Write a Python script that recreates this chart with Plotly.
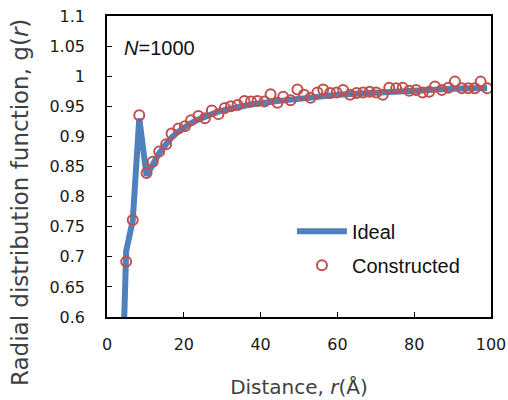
import plotly.graph_objects as go

# Constructed g(r) samples
r_constructed = [5.0, 6.7, 8.4, 10.3, 11.9, 13.6, 15.4, 16.8, 18.6, 20.3, 21.9, 23.8, 25.5, 27.3,
                 29.0, 30.7, 32.3, 34.0, 35.8, 37.5, 39.2, 41.0, 42.6, 44.4, 45.9, 47.8, 49.6, 51.3,
                 53.0, 54.8, 56.3, 58.1, 59.8, 61.5, 63.3, 65.0, 66.7, 68.4, 70.1, 71.8, 73.5, 75.3,
                 77.0, 78.7, 80.5, 82.2, 83.9, 85.4, 87.2, 88.9, 90.6, 92.4, 94.1, 95.8, 97.3, 99.0]
g_constructed = [0.692, 0.761, 0.935, 0.839, 0.858, 0.875, 0.887, 0.905, 0.913, 0.917, 0.927, 0.934,
                 0.930, 0.943, 0.937, 0.947, 0.950, 0.952, 0.959, 0.958, 0.959, 0.958, 0.970, 0.956,
                 0.966, 0.960, 0.978, 0.969, 0.964, 0.973, 0.978, 0.972, 0.973, 0.977, 0.969, 0.972,
                 0.973, 0.974, 0.973, 0.969, 0.981, 0.980, 0.981, 0.976, 0.977, 0.973, 0.974, 0.983,
                 0.977, 0.981, 0.991, 0.980, 0.980, 0.980, 0.991, 0.980]

# Ideal g(r)
r_ideal = [4.4, 5.0, 6.7, 8.4, 10.3, 11.9, 13.6, 15.4, 16.8, 18.6, 20.3, 21.9, 23.8, 25.5, 27.3,
           29.0, 30.7, 32.3, 34.0, 35.8, 37.5, 39.2, 41.0, 45.0, 50.0, 55.0, 60.0, 65.0, 70.0,
           75.0, 80.0, 85.0, 90.0, 95.0, 99.0]
g_ideal = [0.58, 0.71, 0.76, 0.930, 0.835, 0.855, 0.872, 0.887, 0.898, 0.908, 0.916, 0.922, 0.928,
           0.933, 0.937, 0.941, 0.944, 0.947, 0.949, 0.951, 0.953, 0.955, 0.956, 0.959, 0.963,
           0.966, 0.969, 0.971, 0.973, 0.975, 0.977, 0.978, 0.979, 0.980, 0.980]

x_ticks = [0, 20, 40, 60, 80, 100]
y_ticks = [0.6, 0.65, 0.7, 0.75, 0.8, 0.85, 0.9, 0.95, 1.0, 1.05, 1.1]
y_ticklabels = ["0.6", "0.65", "0.7", "0.75", "0.8", "0.85", "0.9", "0.95", "1", "1.05", "1.1"]

fig = go.Figure()
fig.add_trace(go.Scatter(
    x=r_ideal, y=g_ideal, mode="lines", name="Ideal", legendgroup="a",
    line=dict(color="#4F81BD", width=6),
))
fig.add_trace(go.Scatter(
    x=r_constructed, y=g_constructed, mode="markers", name="Constructed", legendgroup="b",
    marker=dict(symbol="circle-open", size=10, color="#C0504D", line=dict(width=2, color="#C0504D")),
))

fig.add_annotation(
    text="<i>N</i>=1000", xref="paper", yref="paper", x=0.04, y=0.895,
    xanchor="left", yanchor="middle", showarrow=False,
    font=dict(family="Liberation Sans, Arial", size=20, color="#111111"),
)
# y-axis title (placed as annotation to match the reference's vertical offset)
fig.add_annotation(
    text="Radial distribution function, g(<i>r</i>)", xref="paper", yref="paper",
    x=-0.2266, y=0.382, xanchor="center", yanchor="middle", textangle=-90, showarrow=False,
    font=dict(family="DejaVu Sans, Verdana", size=23, color="#404040"),
)

fig.update_layout(
    width=508, height=400,
    margin=dict(l=107, r=17, t=16, b=83, autoexpand=False),
    paper_bgcolor="white", plot_bgcolor="white",
    showlegend=True,
    legend=dict(
        x=0.4816, y=0.35, xanchor="left", yanchor="top",
        font=dict(family="Liberation Sans, Arial", size=20, color="#111111"),
        traceorder="grouped", tracegroupgap=5, bgcolor="rgba(0,0,0,0)",
        itemwidth=50,
    ),
    xaxis=dict(
        range=[0, 100], tickvals=x_ticks, ticks="inside", ticklen=5, tickcolor="black",
        showline=True, linecolor="black", linewidth=1.5, mirror=True, showgrid=False, zeroline=False,
        tickfont=dict(family="DejaVu Sans, Verdana", size=16, color="#1a1a1a"),
        ticklabelstandoff=12, automargin=False, ticklabeloverflow="allow",
        title=dict(text="Distance, <i>r</i>(Å)", standoff=27,
                   font=dict(family="DejaVu Sans, Verdana", size=20, color="#404040")),
    ),
    yaxis=dict(
        range=[0.6, 1.1], tickvals=y_ticks, ticktext=y_ticklabels, ticks="inside", ticklen=5,
        tickcolor="black",
        showline=True, linecolor="black", linewidth=1.5, mirror=True, showgrid=False, zeroline=False,
        tickfont=dict(family="DejaVu Sans, Verdana", size=16, color="#1a1a1a"),
        ticklabelstandoff=17, automargin=False, ticklabeloverflow="allow",
    ),
)

fig.write_html(
    "out.html",
    config={"displayModeBar": False},
    post_script="document.body.style.margin='0';document.body.style.overflow='hidden';",
)
